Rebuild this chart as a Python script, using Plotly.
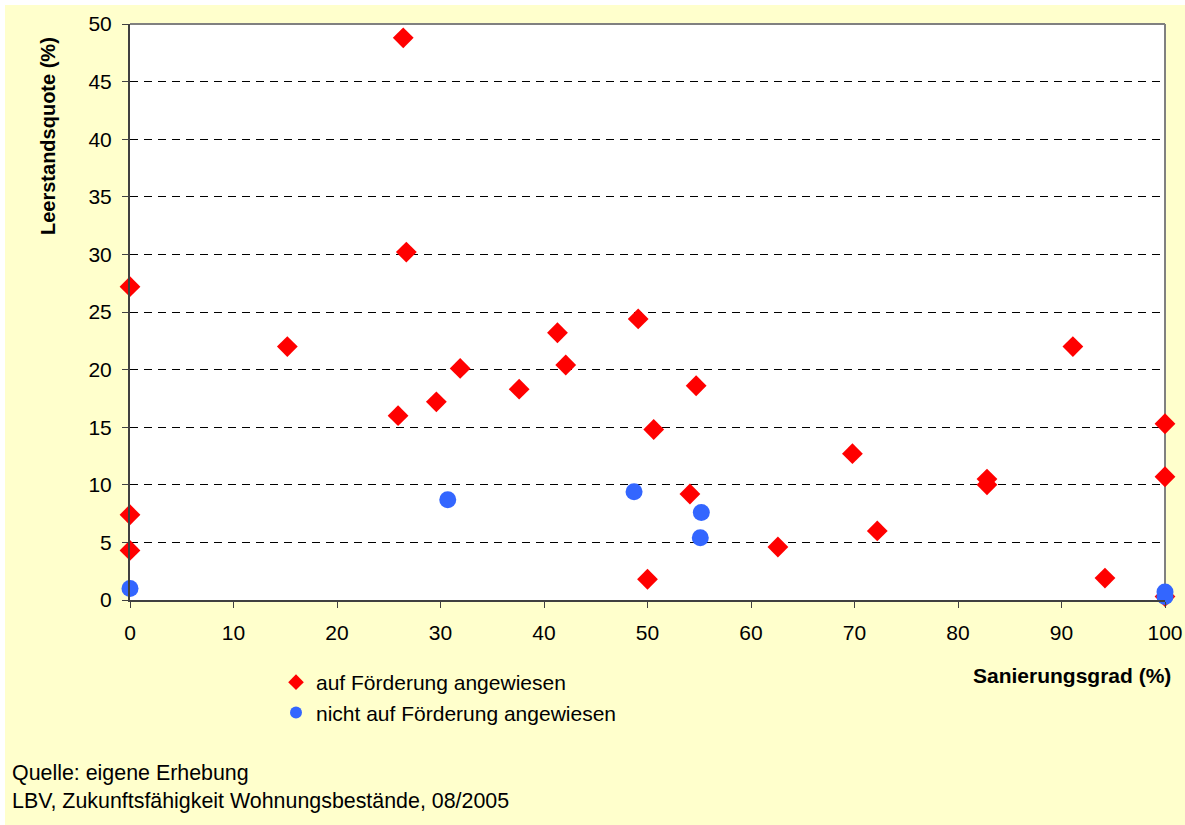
import plotly.graph_objects as go

# Data: Sanierungsgrad (%) vs Leerstandsquote (%)
red_x = [0, 0, 0, 15.2, 26.4, 26.7, 25.9, 29.6, 31.9, 37.6, 41.3, 42.1, 49.1, 50.6, 50.0,
         54.7, 54.1, 62.6, 69.8, 72.2, 82.8, 82.8, 91.1, 94.2, 100, 100, 100]
red_y = [27.2, 7.4, 4.3, 22.0, 48.8, 30.2, 16.0, 17.2, 20.1, 18.3, 23.2, 20.4, 24.4, 14.8, 1.8,
         18.6, 9.2, 4.6, 12.7, 6.0, 10.5, 10.0, 22.0, 1.9, 15.3, 10.7, 0.3]
blue_x = [0, 30.7, 48.7, 55.2, 55.1, 100, 100]
blue_y = [1.0, 8.7, 9.4, 7.6, 5.4, 0.7, 0.3]

red_name = "auf Förderung angewiesen"
blue_name = "nicht auf Förderung angewiesen"
x_title = "Sanierungsgrad (%)"
y_title = "Leerstandsquote (%)"
source_lines = ["Quelle: eigene Erhebung", "LBV, Zukunftsfähigkeit Wohnungsbestände, 08/2005"]

FONT = "Liberation Sans, Arial, sans-serif"
W, H = 1185, 825
# plot area in screen pixels
SL, SR, ST, SB = 130, 1165, 24, 600
pw, ph = SR - SL, SB - ST

def px(sx):
    return (sx - SL) / pw

def py(sy):
    return (SB - sy) / ph

fig = go.Figure()
fig.add_trace(go.Scatter(
    x=red_x, y=red_y, mode="markers", name=red_name,
    marker=dict(symbol="diamond", size=16, color="#FF0000", line=dict(width=0)),
    cliponaxis=False,
))
fig.add_trace(go.Scatter(
    x=blue_x, y=blue_y, mode="markers", name=blue_name,
    marker=dict(symbol="circle", size=17, color="#3366FF", line=dict(width=0)),
    cliponaxis=False,
))

fig.update_layout(
    width=W, height=H, autosize=False,
    margin=dict(l=SL, r=W - SR, t=ST, b=H - SB, autoexpand=False),
    paper_bgcolor="#FFFFFF",
    plot_bgcolor="rgba(0,0,0,0)",
    font=dict(family=FONT, size=21, color="#000000"),
    showlegend=True,
    legend=dict(
        x=px(276), y=py(662), xanchor="left", yanchor="top",
        bgcolor="rgba(0,0,0,0)", font=dict(size=21, family=FONT),
        tracegroupgap=0, itemsizing="constant",
    ),
    xaxis=dict(
        range=[0, 100], tickmode="array", tickvals=list(range(0, 101, 10)),
        showgrid=False, zeroline=False, automargin=False,
        showline=True, linecolor="#404040", linewidth=2,
        ticks="outside", ticklen=6, tickcolor="#404040", tickwidth=1,
        tickfont=dict(size=21, family=FONT),
        ticklabelstandoff=7,
        fixedrange=True,
    ),
    yaxis=dict(
        range=[0, 50], tickmode="array", tickvals=list(range(0, 51, 5)),
        showgrid=True, gridcolor="#000000", gridwidth=1, griddash="8px,6px",
        zeroline=False, automargin=False,
        showline=True, linecolor="#404040", linewidth=2,
        ticks="outside", ticklen=6, tickcolor="#404040", tickwidth=1,
        tickfont=dict(size=21, family=FONT),
        ticklabelstandoff=6,
        fixedrange=True,
    ),
    shapes=[
        # yellow chart area with thin white strip at top/left
        dict(type="rect", xref="paper", yref="paper",
             x0=px(5), x1=px(W + 5), y0=py(H + 5), y1=py(5),
             fillcolor="#FFFFCC", line=dict(width=0), layer="below"),
        # white plot area
        dict(type="rect", xref="paper", yref="paper", x0=0, x1=1, y0=0, y1=1,
             fillcolor="#FFFFFF", line=dict(width=0), layer="below"),
        dict(type="line", xref="paper", yref="paper", x0=0, x1=1, y0=1, y1=1,
             line=dict(color="#808080", width=2), layer="above"),
        dict(type="line", xref="paper", yref="paper", x0=1, x1=1, y0=0, y1=1,
             line=dict(color="#808080", width=2), layer="below"),
    ],
    annotations=[
        dict(text="<b>%s</b>" % y_title, xref="paper", yref="paper",
             x=px(48), y=py(136), xanchor="center", yanchor="middle",
             textangle=-90, showarrow=False, font=dict(size=20, family=FONT)),
        dict(text="<b>%s</b>" % x_title, xref="paper", yref="paper",
             x=px(1173), y=py(675), xanchor="right", yanchor="middle",
             showarrow=False, font=dict(size=21, family=FONT)),
        dict(text=source_lines[0], xref="paper", yref="paper",
             x=px(10), y=py(773), xanchor="left", yanchor="middle",
             showarrow=False, font=dict(size=21.4, family=FONT)),
        dict(text=source_lines[1], xref="paper", yref="paper",
             x=px(10), y=py(801), xanchor="left", yanchor="middle",
             showarrow=False, font=dict(size=21.4, family=FONT)),
    ],
)

fig.write_html(
    "out.html",
    config={"responsive": False, "displayModeBar": False},
    post_script="document.body.style.margin='0';document.body.style.overflow='hidden';",
)
